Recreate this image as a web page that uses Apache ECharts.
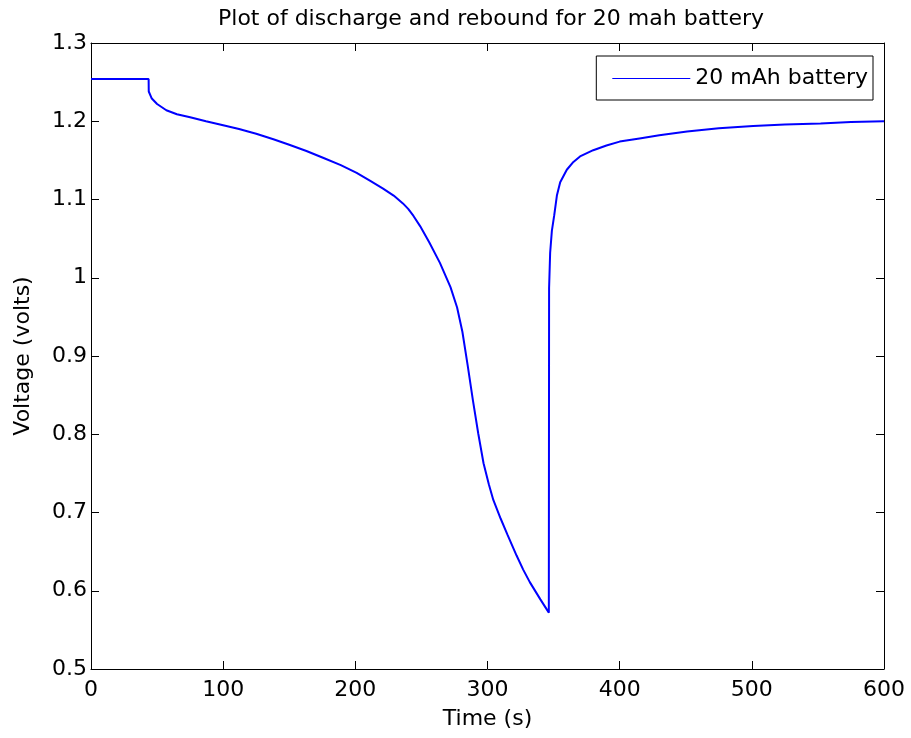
<!DOCTYPE html>
<html>
<head>
<meta charset="utf-8">
<script src="https://cdn.jsdelivr.net/npm/echarts@6/dist/echarts.min.js"></script>
<style>
html,body{margin:0;padding:0;background:#fff;}
#chart{width:911px;height:738px;}
</style>
</head>
<body>
<div id="chart"></div>
<script>
const titleText = 'Plot of discharge and rebound for 20 mah battery';
const seriesName = '20 mAh battery';
const xAxisName = 'Time (s)';
const yAxisName = 'Voltage (volts)';
const xTicks = [0, 100, 200, 300, 400, 500, 600];
const yTicks = [0.5, 0.6, 0.7, 0.8, 0.9, 1.0, 1.1, 1.2, 1.3];

const timeSec = [0, 43.6, 43.7, 46, 50, 57, 65, 75, 87, 100, 112, 125, 138, 150, 163, 176, 189, 201, 211, 221, 229, 236, 240, 244, 249, 256, 264, 272, 277, 281, 285, 289, 293, 297, 301, 304.4, 310, 315, 322, 327, 332, 340, 346.4,
  346.6, 347.4, 348.7, 350.5, 352.5, 355, 360, 365, 370, 380, 390, 400, 415, 430, 451, 475, 501, 525, 552, 575, 600];
const voltage = [1.254, 1.254, 1.238, 1.229, 1.222, 1.214, 1.209, 1.205, 1.200, 1.195, 1.190, 1.184, 1.177, 1.170, 1.162, 1.153, 1.144, 1.134, 1.124, 1.114, 1.105, 1.095, 1.088, 1.079, 1.066, 1.045, 1.019, 0.988, 0.962, 0.931, 0.888, 0.843, 0.801, 0.763, 0.736, 0.716, 0.692, 0.672, 0.645, 0.627, 0.611, 0.589, 0.572,
  0.987, 1.032, 1.060, 1.080, 1.105, 1.122, 1.138, 1.148, 1.155, 1.163, 1.169, 1.174, 1.178, 1.182, 1.187, 1.191, 1.194, 1.196, 1.197, 1.199, 1.200];

const data = timeSec.map((t, i) => [t, voltage[i]]);
const font = 'DejaVu Sans, Liberation Sans, Arial, sans-serif';
const lineColor = '#0000ff';

const chart = echarts.init(document.getElementById('chart'), null, {renderer: 'canvas'});
const xMin = xTicks[0], xMax = xTicks[xTicks.length - 1];
const yMin = yTicks[0], yMax = yTicks[yTicks.length - 1];
const fmtY = v => String(parseFloat(v.toFixed(1)));

chart.setOption({
  animation: false,
  backgroundColor: '#ffffff',
  color: [lineColor],
  title: {
    text: titleText,
    left: 486, top: 3, textAlign: 'center',
    textStyle: {fontFamily: font, fontSize: 22, fontWeight: 'normal', color: '#000'}
  },
  legend: {
    data: [{name: seriesName, icon: 'rect', itemStyle: {color: lineColor, borderColor: lineColor, borderWidth: 0}}],
    right: 38, top: 56,
    orient: 'vertical',
    backgroundColor: '#fff',
    borderColor: '#000', borderWidth: 1, borderRadius: 0,
    padding: [11, 5, 10, 16],
    itemWidth: 78, itemHeight: 1, itemGap: 0,
    itemStyle: {color: lineColor, borderColor: lineColor, borderWidth: 0},
    lineStyle: {color: lineColor, width: 1},
    textStyle: {fontFamily: font, fontSize: 22, color: '#000', lineHeight: 23}
  },
  grid: {left: 91, right: 27, top: 43, bottom: 69, containLabel: false},
  xAxis: [{
    type: 'value', min: xMin, max: xMax, interval: 100,
    name: xAxisName, nameLocation: 'middle', nameGap: 39,
    nameTextStyle: {fontFamily: font, fontSize: 22, color: '#000'},
    axisLine: {show: true, onZero: false, lineStyle: {color: '#000', width: 1}},
    axisTick: {show: true, inside: true, length: 8, lineStyle: {color: '#000'}},
    axisLabel: {fontFamily: font, fontSize: 22, color: '#000', margin: 10, showMinLabel: true, showMaxLabel: true},
    splitLine: {show: false}
  }, {
    type: 'value', position: 'top', min: xMin, max: xMax, interval: 100,
    axisLine: {show: true, onZero: false, lineStyle: {color: '#000', width: 1}},
    axisTick: {show: true, inside: true, length: 8, lineStyle: {color: '#000'}},
    axisLabel: {show: false}, splitLine: {show: false}
  }],
  yAxis: [{
    type: 'value', min: yMin, max: yMax, interval: 0.1,
    name: yAxisName, nameLocation: 'middle', nameGap: 57,
    nameTextStyle: {fontFamily: font, fontSize: 22, color: '#000'},
    axisLine: {show: true, onZero: false, lineStyle: {color: '#000', width: 1}},
    axisTick: {show: true, inside: true, length: 8, lineStyle: {color: '#000'}},
    axisLabel: {fontFamily: font, fontSize: 22, color: '#000', margin: 4, formatter: fmtY, showMinLabel: true, showMaxLabel: true},
    splitLine: {show: false}
  }, {
    type: 'value', position: 'right', min: yMin, max: yMax, interval: 0.1,
    axisLine: {show: true, onZero: false, lineStyle: {color: '#000', width: 1}},
    axisTick: {show: true, inside: true, length: 8, lineStyle: {color: '#000'}},
    axisLabel: {show: false}, splitLine: {show: false}
  }],
  series: [{
    name: seriesName, type: 'line', data: data,
    xAxisIndex: 0, yAxisIndex: 0,
    symbol: 'none', smooth: false,
    lineStyle: {color: lineColor, width: 2},
    itemStyle: {color: lineColor}
  }]
});
</script>
</body>
</html>
